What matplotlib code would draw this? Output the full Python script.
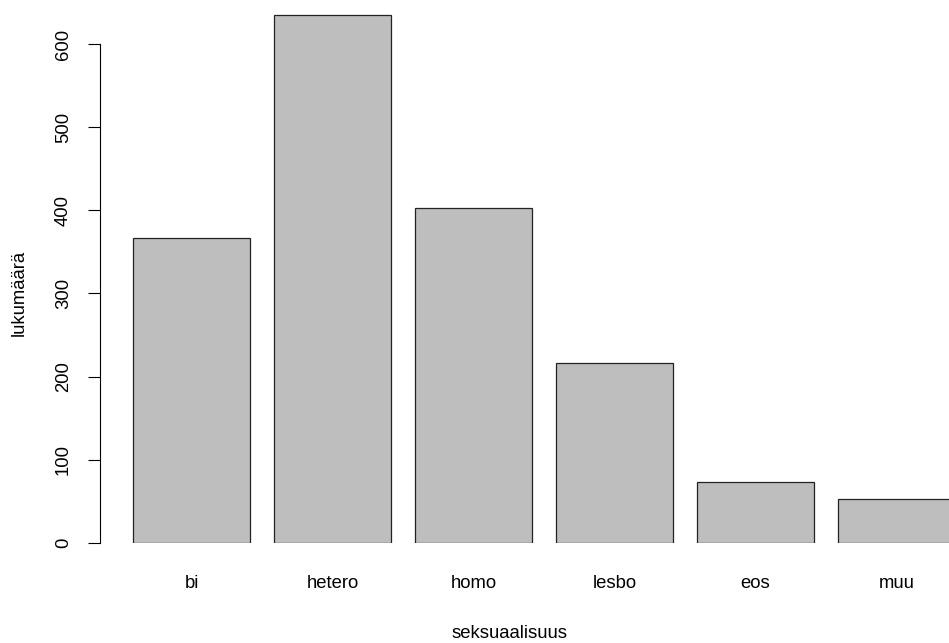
import matplotlib
matplotlib.use("Agg")
import matplotlib.pyplot as plt

categories = ["bi", "hetero", "homo", "lesbo", "eos", "muu"]
counts = [367, 635, 403, 217, 73, 53]

plt.rcParams['font.family'] = ['Liberation Sans', 'DejaVu Sans']

W, H = 949, 643
fig = plt.figure(figsize=(W / 100, H / 100), dpi=100, facecolor='white')

# axes box in pixels (R barplot layout, right side cropped)
x0, y0 = 109.25, 543
ax = fig.add_axes([x0 / W, (H - y0) / H, (W - x0) / W, y0 / H])

# R barplot: width 1, space 0.2
pos = [0.2 + 1.2 * i + 0.5 for i in range(len(categories))]
ax.bar(pos, counts, width=1.0, color='#bebebe', edgecolor='#222222',
       linewidth=0.9)

ax.set_xlim(0, (W - x0) / 117.5)
ax.set_ylim(0, y0 / 0.8317)

for s in ['top', 'right', 'bottom']:
    ax.spines[s].set_visible(False)
ax.spines['left'].set_position(('outward', 9.25 * 0.72))
ax.spines['left'].set_bounds(0, 600)
ax.spines['left'].set_linewidth(0.8)

ax.set_yticks(range(0, 601, 100))
ax.tick_params(axis='y', length=8.6, width=0.8, pad=11.5, labelsize=13.3,
               labelrotation=90)
for lab in ax.get_yticklabels():
    lab.set_va('center')

ax.set_xticks(pos)
ax.set_xticklabels(categories)
ax.tick_params(axis='x', length=0, pad=29.5, labelsize=13.3)
for lab in ax.get_xticklabels():
    lab.set_va('center')

fig.text(19 / W, 1 - 293 / H, 'lukumäärä', rotation=90, ha='center',
         va='center', fontsize=13.3)
fig.text(510 / W, 1 - 634 / H, 'seksuaalisuus', ha='center', va='center',
         fontsize=13.3)

fig.savefig('out.png', dpi=100)
